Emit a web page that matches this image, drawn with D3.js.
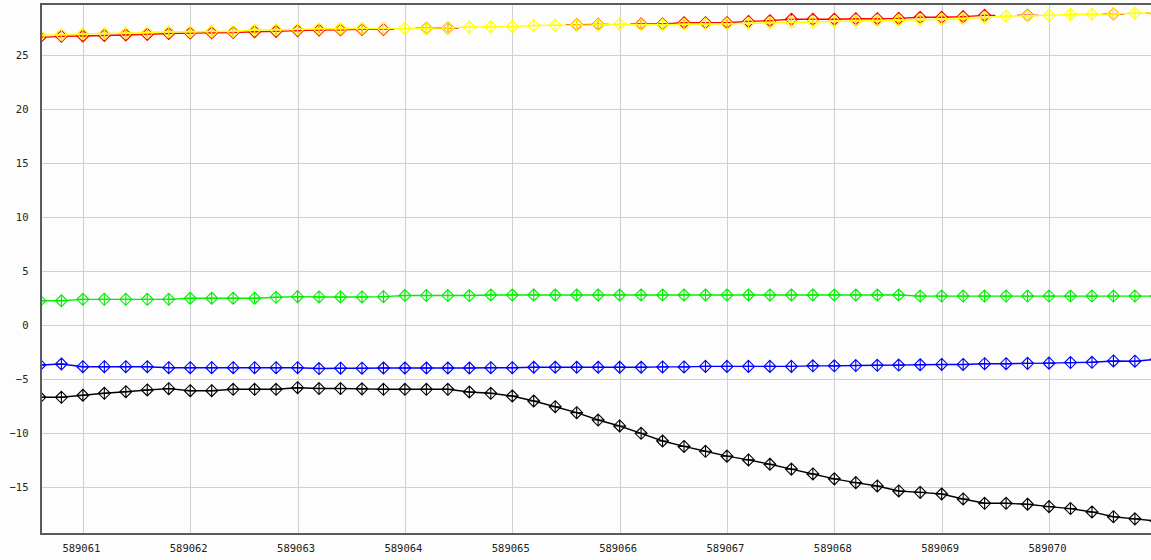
<!DOCTYPE html>
<html>
<head>
<meta charset="utf-8">
<script src="https://cdn.jsdelivr.net/npm/d3@7"></script>
<style>
  html, body { margin: 0; padding: 0; background: #fcfdfc; }
  svg { display: block; }
  .tick-label { font-family: "DejaVu Sans Mono", monospace; font-size: 10.5px; fill: #222; }
</style>
</head>
<body>
<svg id="chart" width="1151" height="560"></svg>
<script>
// Sample positions along the x axis
const samples = [
  589060.6, 589060.8, 589061.0, 589061.2, 589061.4, 589061.6, 589061.8, 589062.0,
  589062.2, 589062.4, 589062.6, 589062.8, 589063.0, 589063.2, 589063.4, 589063.6,
  589063.8, 589064.0, 589064.2, 589064.4, 589064.6, 589064.8, 589065.0, 589065.2,
  589065.4, 589065.6, 589065.8, 589066.0, 589066.2, 589066.4, 589066.6, 589066.8,
  589067.0, 589067.2, 589067.4, 589067.6, 589067.8, 589068.0, 589068.2, 589068.4,
  589068.6, 589068.8, 589069.0, 589069.2, 589069.4, 589069.6, 589069.8, 589070.0,
  589070.2, 589070.4, 589070.6, 589070.8, 589071.0
];

// Series values (null = no reading)
const redSeries = [
  26.62, 26.72, 26.75, 26.80, 26.85, 26.90, 26.98, 27.02, 27.05, 27.08, 27.15, 27.18, 27.25,
  27.30, 27.32, 27.36, 27.36, null, 27.47, 27.49, null, null, null, null, null, 27.80,
  27.82, null, 27.86, 27.86, 27.98, 27.98, 27.98, 28.10, 28.17, 28.30, 28.30, 28.30, 28.35,
  28.35, 28.38, 28.48, 28.48, 28.54, 28.66, null, 28.66, null, null, null, 28.78, null, 28.85
];
const yellowSeries = [
  26.83, 26.88, 26.95, 26.98, 27.02, 27.07, 27.14, 27.14, 27.17, 27.17, 27.30, 27.33, 27.36,
  27.42, 27.42, 27.44, 27.45, 27.45, 27.47, 27.50, 27.58, 27.60, 27.62, 27.72, 27.74, 27.76,
  27.78, 27.84, 27.80, 27.80, 27.84, 27.86, 27.88, 27.92, 27.96, 28.00, 28.04, 28.10, 28.14,
  28.16, 28.20, 28.25, 28.30, 28.36, 28.45, 28.60, 28.62, 28.66, 28.74, 28.76, 28.78, 28.85, 28.88
];
const greenSeries = [
  2.27, 2.27, 2.40, 2.40, 2.40, 2.40, 2.40, 2.50, 2.50, 2.50, 2.50, 2.59, 2.65,
  2.62, 2.62, 2.62, 2.65, 2.75, 2.75, 2.75, 2.75, 2.80, 2.80, 2.80, 2.80, 2.80,
  2.80, 2.80, 2.80, 2.80, 2.80, 2.80, 2.80, 2.80, 2.80, 2.80, 2.80, 2.80, 2.80,
  2.80, 2.80, 2.70, 2.70, 2.70, 2.70, 2.70, 2.70, 2.70, 2.70, 2.70, 2.70, 2.70, 2.70
];
const blueSeries = [
  -3.67, -3.58, -3.83, -3.83, -3.83, -3.83, -3.92, -3.92, -3.92, -3.92, -3.92, -3.92, -3.92,
  -4.00, -3.97, -3.97, -3.95, -3.95, -3.95, -3.95, -3.95, -3.92, -3.92, -3.88, -3.88, -3.88,
  -3.88, -3.88, -3.88, -3.85, -3.85, -3.80, -3.80, -3.80, -3.80, -3.80, -3.75, -3.75, -3.72,
  -3.70, -3.68, -3.65, -3.62, -3.62, -3.55, -3.55, -3.52, -3.50, -3.45, -3.42, -3.30, -3.32, -3.15
];
const blackSeries = [
  -6.66, -6.66, -6.47, -6.29, -6.14, -5.98, -5.86, -6.05, -6.05, -5.92, -5.92, -5.92, -5.77,
  -5.85, -5.85, -5.88, -5.92, -5.92, -5.92, -5.92, -6.17, -6.29, -6.54, -7.00, -7.53, -8.08,
  -8.76, -9.31, -9.99, -10.70, -11.20, -11.65, -12.10, -12.45, -12.85, -13.30, -13.75, -14.20, -14.55,
  -14.86, -15.32, -15.45, -15.60, -16.06, -16.46, -16.46, -16.55, -16.77, -16.95, -17.26, -17.70, -17.90, -18.10
];

// Axis ticks
const xTicks = [589061, 589062, 589063, 589064, 589065, 589066, 589067, 589068, 589069, 589070];
const yTicks = [-15, -10, -5, 0, 5, 10, 15, 20, 25];

const series = [
  { name: "green",  values: greenSeries,  color: "#00f000", gap: false },
  { name: "blue",   values: blueSeries,   color: "#0000ff", gap: false },
  { name: "black",  values: blackSeries,  color: "#000000", gap: false },
  { name: "red",    values: redSeries,    color: "#ff0000", gap: true },
  { name: "yellow", values: yellowSeries, color: "#ffff00", gap: false }
];

const W = 1151, H = 560;
const plot = { left: 41, right: 1151, top: 4, bottom: 534 };

const x = d3.scaleLinear().domain([589060.61, 589070.95]).range([plot.left, plot.right]);
const y = d3.scaleLinear().domain([-19.3, 29.71]).range([plot.bottom, plot.top]);

const svg = d3.select("#chart");

svg.append("rect").attr("width", W).attr("height", H).attr("fill", "#fcfdfc");

svg.append("defs").append("clipPath").attr("id", "plot-clip")
  .append("rect")
  .attr("x", plot.left).attr("y", plot.top)
  .attr("width", plot.right - plot.left).attr("height", plot.bottom - plot.top);

// Grid
const grid = svg.append("g").attr("shape-rendering", "crispEdges");
grid.selectAll("line.vx").data(xTicks).join("line")
  .attr("x1", d => Math.round(x(d)) + 0.5).attr("x2", d => Math.round(x(d)) + 0.5)
  .attr("y1", plot.top).attr("y2", plot.bottom)
  .attr("stroke", "#d0d0d0").attr("stroke-width", 1.5);
grid.selectAll("line.hy").data(yTicks).join("line")
  .attr("y1", d => Math.round(y(d)) + 0.5).attr("y2", d => Math.round(y(d)) + 0.5)
  .attr("x1", plot.left).attr("x2", plot.right)
  .attr("stroke", "#d0d0d0").attr("stroke-width", 1.5);

const layer = svg.append("g").attr("clip-path", "url(#plot-clip)");

const line = d3.line()
  .defined(d => d.v !== null)
  .x(d => x(d.t))
  .y(d => y(d.v));

// Half the sample step, used to extend broken segments
const halfStep = (samples[1] - samples[0]) / 2;

function runsOf(points) {
  const runs = [];
  let cur = [];
  points.forEach(p => {
    if (p.v === null) { if (cur.length) runs.push(cur); cur = []; }
    else cur.push(p);
  });
  if (cur.length) runs.push(cur);
  return runs;
}

const markerPath = "M0,-6L6,0L0,6L-6,0Z M0,-6V6 M-6,0H6";

series.forEach(s => {
  const pts = samples.map((t, i) => ({ t, v: s.values[i] }));
  const g = layer.append("g").attr("class", "series-" + s.name);
  if (s.gap) {
    // each run of readings is drawn with a half-step lead-in and lead-out
    runsOf(pts).forEach(run => {
      const ext = [{ t: run[0].t - halfStep, v: run[0].v }, ...run,
                   { t: run[run.length - 1].t + halfStep, v: run[run.length - 1].v }];
      g.append("path").attr("d", line(ext))
        .attr("fill", "none").attr("stroke", s.color).attr("stroke-width", 1.4);
    });
  } else {
    g.append("path").attr("d", line(pts))
      .attr("fill", "none").attr("stroke", s.color).attr("stroke-width", 1.4);
  }
  g.selectAll("path.marker").data(pts.filter(p => p.v !== null)).join("path")
    .attr("class", "marker")
    .attr("transform", d => `translate(${x(d.t)},${y(d.v)})`)
    .attr("d", markerPath)
    .attr("fill", "none")
    .attr("stroke", s.color)
    .attr("stroke-width", 1.1);
});

// Axis frame
const frame = svg.append("g").attr("shape-rendering", "crispEdges").attr("stroke", "#5a5a5a");
frame.append("line").attr("x1", plot.left).attr("x2", plot.left).attr("y1", plot.top - 1).attr("y2", plot.bottom + 1).attr("stroke-width", 2);
frame.append("line").attr("x1", plot.left).attr("x2", plot.right).attr("y1", plot.bottom).attr("y2", plot.bottom).attr("stroke-width", 2);
frame.append("line").attr("x1", plot.left).attr("x2", plot.right).attr("y1", plot.top).attr("y2", plot.top).attr("stroke-width", 2);

// Tick labels
svg.append("g").selectAll("text").data(yTicks).join("text")
  .attr("class", "tick-label")
  .attr("x", 28.5)
  .attr("y", d => y(d))
  .attr("dy", "0.36em")
  .attr("text-anchor", "end")
  .text(d => d3.format("d")(d).replace("-", "\u2212"));

svg.append("g").selectAll("text").data(xTicks).join("text")
  .attr("class", "tick-label")
  .attr("x", d => x(d) - 1.5)
  .attr("y", 552)
  .attr("text-anchor", "middle")
  .text(d => d3.format("d")(d));
</script>
</body>
</html>
